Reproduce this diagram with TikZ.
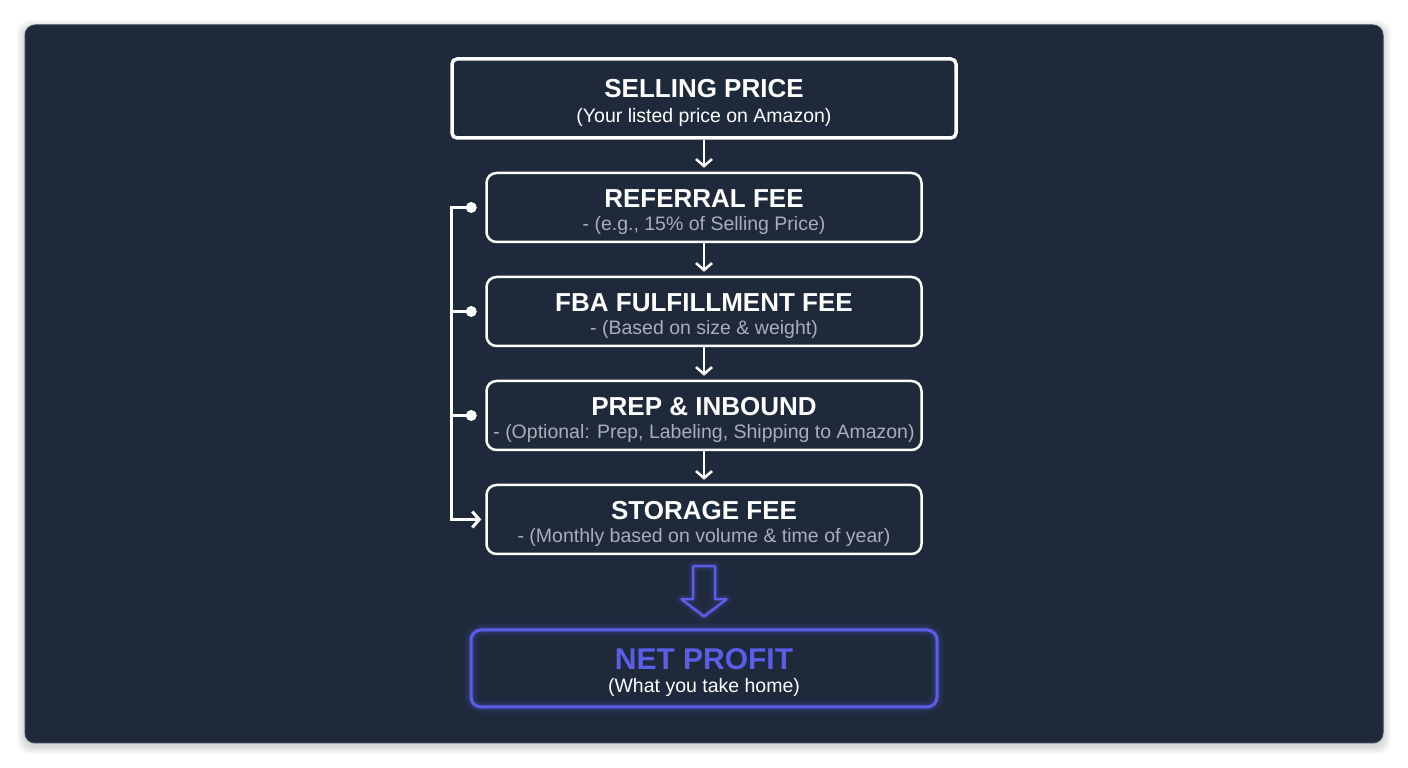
\documentclass[tikz,border=0pt]{standalone}
\usepackage{fontspec}
\setmainfont{Liberation Sans}
\usetikzlibrary{arrows.meta,calc}

\definecolor{panel}{HTML}{1E293B}
\definecolor{paneledge}{HTML}{3A4658}
\definecolor{netblue}{HTML}{5A5EE6}
\definecolor{subgray}{HTML}{A9AEB8}

\newcommand{\boxtitle}[1]{{\fontsize{26}{23}\selectfont\bfseries\rule{0pt}{27pt}#1}}
\newcommand{\boxsub}[1]{{\color{subgray}#1}}

\begin{document}
\begin{tikzpicture}[x=1pt,y=1pt,
  box/.style={draw=white,line width=2.5pt,rounded corners=10pt,minimum width=435pt,
    minimum height=69pt,inner sep=0pt,align=center,text=white,
    font=\fontsize{19.5}{23}\selectfont},
  topbox/.style={box,line width=3.5pt,rounded corners=5pt,minimum width=504pt,minimum height=79pt},
  netbox/.style={box,draw=netblue,line width=3pt,minimum width=466pt,minimum height=77pt},
  flow/.style={draw=white,line width=2.5pt,-{Straight Barb[length=7pt,width=16pt]},shorten >=4pt},
  bus/.style={draw=white,line width=3pt},
  glow/.style={draw=netblue,line join=round}]

% page and panel
\useasboundingbox (0,0) rectangle (1408,768);
\fill[white] (0,0) rectangle (1408,768);
\foreach \i in {1,...,8}
  \fill[black,opacity=0.018,rounded corners=12pt] (25-\i,22-\i) rectangle (1383+\i,740+\i);
\filldraw[fill=panel,draw=paneledge,line width=1pt,rounded corners=10pt] (25,25) rectangle (1383,743);

% boxes
\node[topbox] (sell) at (704,669.5) {\boxtitle{SELLING PRICE}\\[2pt](Your listed price on Amazon)};
\node[box] (ref) at (704,560.5) {\boxtitle{REFERRAL FEE}\\\boxsub{- (e.g., 15\% of Selling Price)}};
\node[box] (fba) at (704,456.5) {\boxtitle{FBA FULFILLMENT FEE}\\\boxsub{- (Based on size \& weight)}};
\node[box] (prep) at (704,352.5) {\boxtitle{PREP \& INBOUND}\\\boxsub{- (Optional: Prep, Labeling, Shipping to Amazon)}};
\node[box] (stor) at (704,248.5) {\boxtitle{STORAGE FEE}\\\boxsub{- (Monthly based on volume \& time of year)}};

% net profit with glow
\coordinate (net) at (704,99.5);
\foreach \w/\o in {16/0.04,12/0.06,8/0.09,5/0.14}
  \draw[glow,line width=\w pt,opacity=\o,rounded corners=11pt] (471,61) rectangle (937,138);
\node[netbox] (netp) at (net) {{\fontsize{30}{23}\selectfont\bfseries\color{netblue}\rule{0pt}{30pt}NET PROFIT}\\(What you take home)};

% down flow
\draw[flow] (sell) -- (ref);
\draw[flow] (ref) -- (fba);
\draw[flow] (fba) -- (prep);
\draw[flow] (prep) -- (stor);

% side bus
\coordinate (d1) at ($(ref.west)+(-14,0)$);
\coordinate (d2) at ($(fba.west)+(-14,0)$);
\coordinate (d3) at ($(prep.west)+(-14,0)$);
\draw[bus,-{Straight Barb[length=7pt,width=16pt]}] (d1) -- ++(-20,0) |- ($(stor.west)+(-4,0)$);
\draw[bus] (d2) -- ++(-20,0);
\draw[bus] (d3) -- ++(-20,0);
\foreach \d in {d1,d2,d3}
  \fill[white] (\d) circle (5.5pt);

% hollow arrow
\coordinate (ha) at ($(stor.south)+(0,-11)$);
\foreach \w/\o in {12/0.05,8/0.08,5/0.12}
  \draw[glow,line width=\w pt,opacity=\o] (ha) ++(-11,0) -- ++(22,0) -- ++(0,-33) -- ++(11.5,0)
    -- ($(netp.north)+(0,12)$) -- ($(ha)+(-22.5,-33)$) -- ++(11.5,0) -- cycle;
\draw[glow,line width=2.5pt] (ha) ++(-11,0) -- ++(22,0) -- ++(0,-33) -- ++(11.5,0)
  -- ($(netp.north)+(0,12)$) -- ($(ha)+(-22.5,-33)$) -- ++(11.5,0) -- cycle;
\end{tikzpicture}
\end{document}
